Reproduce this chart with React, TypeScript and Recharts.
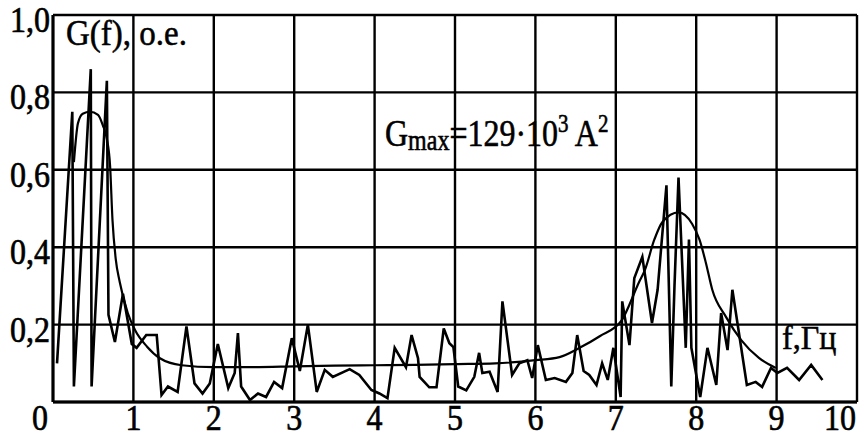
import React from 'react';
import { LineChart, Line, XAxis, YAxis, CartesianGrid } from 'recharts';

// measured spectrum G(f), relative units
const spectrumF = [
  0.05, 0.24, 0.26, 0.47, 0.48, 0.67, 0.69, 0.77, 0.87, 0.98, 1.04, 1.16, 1.29, 1.35, 1.43, 1.55,
  1.66, 1.76, 1.86, 1.95, 2.05, 2.18, 2.26, 2.3, 2.34, 2.45, 2.55, 2.65, 2.75, 2.85, 2.97, 3.07,
  3.17, 3.28, 3.38, 3.48, 3.69, 3.81, 3.96, 4.06, 4.16, 4.25, 4.39, 4.46, 4.54, 4.56, 4.68, 4.77,
  4.86, 4.93, 4.98, 5.04, 5.14, 5.24, 5.3, 5.34, 5.43, 5.53, 5.59, 5.71, 5.8, 5.9, 5.96, 6.03,
  6.13, 6.24, 6.38, 6.46, 6.52, 6.6, 6.67, 6.76, 6.83, 6.9, 6.97, 7.06, 7.08, 7.17, 7.23, 7.33,
  7.45, 7.52, 7.63, 7.69, 7.73, 7.78, 7.87, 7.91, 7.94, 8.05, 8.14, 8.25, 8.31, 8.39, 8.45, 8.63,
  8.74, 8.82, 8.93, 9.01, 9.13, 9.28, 9.43, 9.57,
];
const spectrumG = [
  0.1, 0.75, 0.04, 0.86, 0.04, 0.83, 0.225, 0.155, 0.28, 0.15, 0.14, 0.173, 0.173, 0.018, 0.04, 0.026,
  0.195, 0.048, 0.022, 0.048, 0.15, 0.036, 0.075, 0.178, 0.04, 0.005, 0.022, 0.013, 0.052, 0.036, 0.165, 0.08,
  0.2, 0.026, 0.083, 0.065, 0.085, 0.07, 0.031, 0.022, 0.01, 0.14, 0.09, 0.173, 0.113, 0.065, 0.038, 0.038,
  0.19, 0.152, 0.142, 0.04, 0.03, 0.065, 0.127, 0.075, 0.078, 0.026, 0.26, 0.07, 0.1, 0.108, 0.062, 0.147,
  0.057, 0.062, 0.052, 0.075, 0.173, 0.08, 0.07, 0.044, 0.1, 0.057, 0.14, 0.013, 0.26, 0.147, 0.32, 0.375,
  0.204, 0.29, 0.56, 0.04, 0.3, 0.58, 0.14, 0.42, 0.14, 0.013, 0.14, 0.044, 0.23, 0.134, 0.29, 0.044,
  0.052, 0.039, 0.088, 0.075, 0.088, 0.057, 0.096, 0.057,
];

// smooth approximation curve
const fitF = [
  0.26, 0.31, 0.37, 0.46, 0.56, 0.62, 0.67, 0.71, 0.74, 0.78, 0.83, 0.93, 1.02, 1.17, 1.33, 1.6,
  2.0, 2.5, 3.0, 3.5, 4.0, 4.5, 5.0, 5.5, 6.0, 6.3, 6.55, 6.8, 7.07, 7.29, 7.36, 7.48, 7.58, 7.78,
  7.95, 8.04, 8.12, 8.2, 8.37, 8.56, 8.78, 8.99,
];
const fitG = [
  0.62, 0.72, 0.745, 0.75, 0.742, 0.715, 0.68, 0.61, 0.47, 0.37, 0.31, 0.23, 0.186, 0.143, 0.113, 0.095,
  0.09, 0.09, 0.092, 0.094, 0.095, 0.096, 0.098, 0.1, 0.108, 0.116, 0.14, 0.17, 0.21, 0.31, 0.34, 0.42, 0.465, 0.49,
  0.46, 0.42, 0.36, 0.29, 0.22, 0.16, 0.114, 0.088,
];

const xTicks = [0, 1, 2, 3, 4, 5, 6, 7, 8, 9, 10];
const yTicks = [0, 0.2, 0.4, 0.6, 0.8, 1.0];

const spectrum = spectrumF.map((f, i) => ({ f, g: spectrumG[i] }));
const fit = fitF.map((f, i) => ({ f, g: fitG[i] }));

const FONT = 'Liberation Serif, Times New Roman, serif';
const STRETCH = 1.2;

const fmt = (v: number) => v.toFixed(1).replace('.', ',');

const YTick = (props: any) => {
  const { y, payload } = props;
  if (payload.value === 0) return null;
  return (
    <text
      transform={`translate(50,${y + 17}) scale(1,1.1)`}
      textAnchor="end"
      fontFamily={FONT}
      fontSize={32}
      fill="#000"
      stroke="#000"
      strokeWidth={0.6}
    >
      {fmt(payload.value)}
    </text>
  );
};

const XTick = (props: any) => {
  const { x, payload } = props;
  const v = payload.value;
  const dx = v === 0 ? -13 : v === 10 ? -17 : 0;
  return (
    <text
      transform={`translate(${x + dx},430) scale(1,1.1)`}
      textAnchor="middle"
      fontFamily={FONT}
      fontSize={32}
      fill="#000"
      stroke="#000"
      strokeWidth={0.6}
    >
      {v}
    </text>
  );
};

const App: React.FC = () => {
  return (
    <div style={{ position: 'relative', width: 863, height: 439, background: '#fff' }}>
      <style>{`body{margin:0}`}</style>
      <LineChart width={863} height={439} margin={{ top: 15, right: 6, bottom: 0, left: 0 }}>
        <CartesianGrid stroke="#000" strokeWidth={2.4} />
        <XAxis
          type="number"
          dataKey="f"
          domain={[0, 10]}
          ticks={xTicks}
          interval={0}
          height={37}
          tickLine={false}
          axisLine={{ stroke: '#000', strokeWidth: 3 }}
          tick={<XTick />}
        />
        <YAxis
          type="number"
          dataKey="g"
          domain={[0, 1]}
          ticks={yTicks}
          interval={0}
          width={53}
          tickLine={false}
          axisLine={{ stroke: '#000', strokeWidth: 3 }}
          tick={<YTick />}
        />
        <Line
          data={fit}
          dataKey="g"
          type="monotone"
          stroke="#000"
          strokeWidth={2.2}
          dot={false}
          isAnimationActive={false}
        />
        <Line
          data={spectrum}
          dataKey="g"
          type="linear"
          stroke="#000"
          strokeWidth={2.6}
          strokeLinejoin="miter"
          dot={false}
          isAnimationActive={false}
        />
      </LineChart>
      <svg
        width={863}
        height={439}
        style={{ position: 'absolute', left: 0, top: 0, pointerEvents: 'none' }}
      >
        <g fontFamily={FONT} fill="#000" stroke="#000" strokeWidth={0.5}>
          <text transform="translate(66,45) scale(1,1.08)" fontSize={33}>
            G(f), o.e.
          </text>
          <text transform={`translate(385,146) scale(1,${STRETCH})`} fontSize={32}>
            G
            <tspan fontSize={24} dy={3}>max</tspan>
            <tspan fontSize={32} dy={-3}>=129·10</tspan>
            <tspan fontSize={21} dy={-12}>3</tspan>
            <tspan fontSize={32} dy={12}> A</tspan>
            <tspan fontSize={21} dy={-12}>2</tspan>
          </text>
          <text transform="translate(782,349) scale(1,1.05)" fontSize={32}>
            f,Гц
          </text>
        </g>
      </svg>
    </div>
  );
};

export default App;
